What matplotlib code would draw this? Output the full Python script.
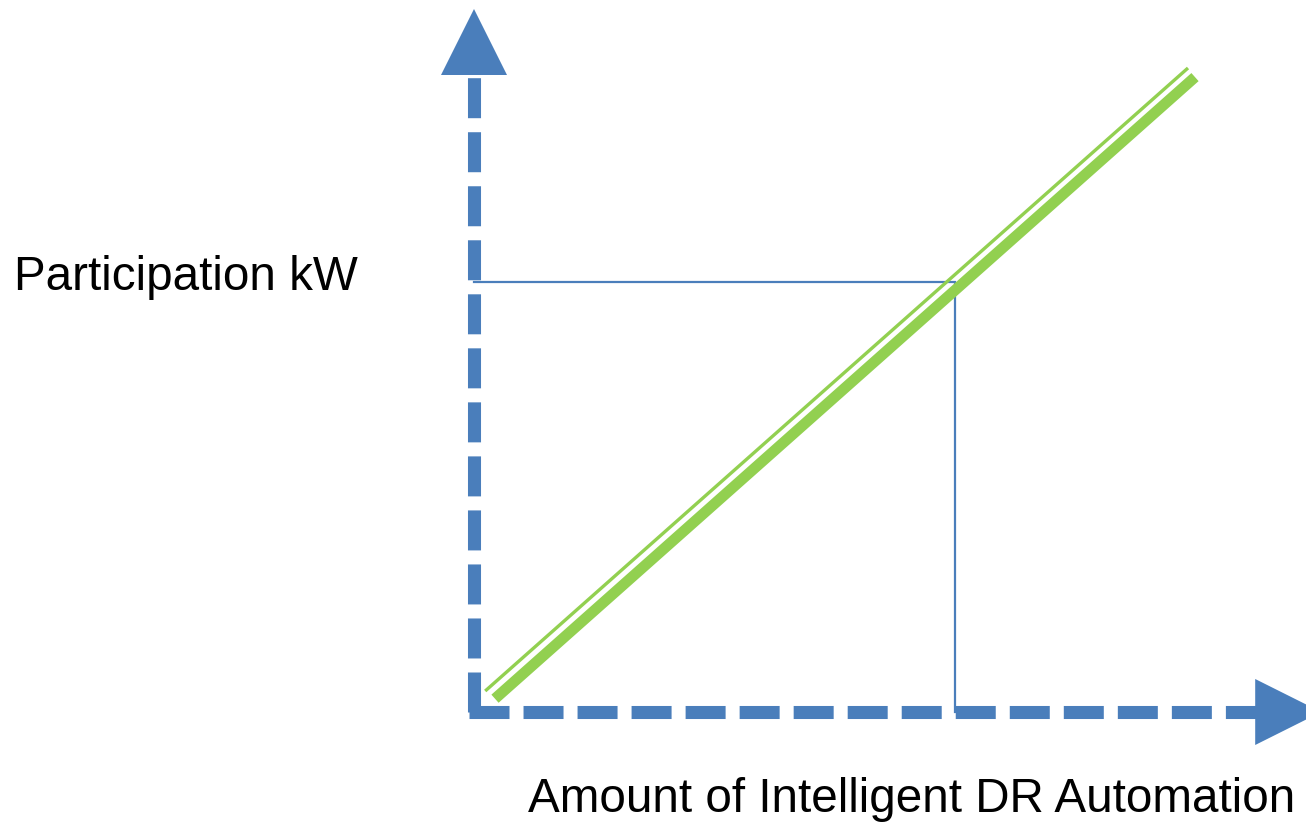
import numpy as np
import matplotlib
matplotlib.use("Agg")
import matplotlib.pyplot as plt

plt.rcParams['font.family'] = ['Liberation Sans', 'DejaVu Sans']
plt.rcParams['lines.scale_dashes'] = False

# conceptual data (arbitrary units, 1 unit = 70 px in the original)
automation = [0.3, 10.3]          # thick green line, x
participation = [0.19, 9.07]      # thick green line, y
automation_thin = [0.16, 10.2]    # thin companion line
participation_thin = [0.3, 9.2]
marker_x = 6.87                   # reference level on x
marker_y = 6.14                   # reference level on y

x_label = "Amount of Intelligent DR Automation"
y_label = "Participation kW"

blue = '#4A7EBB'
green = '#92D050'

fig = plt.figure(figsize=(13.06, 8.28), dpi=100)
ax = fig.add_axes([0, 0, 1, 1])
ax.set_xlim(-474 / 70, (1306 - 474) / 70)
ax.set_ylim(-(828 - 713) / 70, 713 / 70)
ax.axis('off')

# dashed axes
dash = (0, (28.8, 10.1))
ax.plot([-0.07, 11.2], [0, 0], color=blue, lw=9.4, linestyle=dash,
        solid_capstyle='butt', dash_capstyle='butt')
ax.plot([0, 0], [0.0, 9.15], color=blue, lw=9.4, linestyle=dash,
        solid_capstyle='butt', dash_capstyle='butt')

# arrow heads
head = 66 / 70
ax.fill([-head / 2, head / 2, 0], [9.1, 9.1, 9.1 + head], color=blue, lw=0)
ax.fill([11.16, 11.16, 11.16 + head], [-head / 2, head / 2, 0], color=blue, lw=0)

# reference lines
ax.plot([0, marker_x, marker_x], [marker_y, marker_y, 0], color=blue, lw=1.6,
        solid_joinstyle='miter')

# green line (thick + thin)
ax.plot(automation, participation, color=green, lw=7.8, solid_capstyle='butt')
ax.plot(automation_thin, participation_thin, color=green, lw=2.4, solid_capstyle='butt')

ax.text(14 / 70 - 474 / 70, (713 - 278) / 70, y_label, fontsize=34.3,
        ha='left', va='center')
ax.text(1295 / 70 - 474 / 70, (713 - 800) / 70, x_label, fontsize=34.3,
        ha='right', va='center')

fig.savefig('out.png', dpi=100)
